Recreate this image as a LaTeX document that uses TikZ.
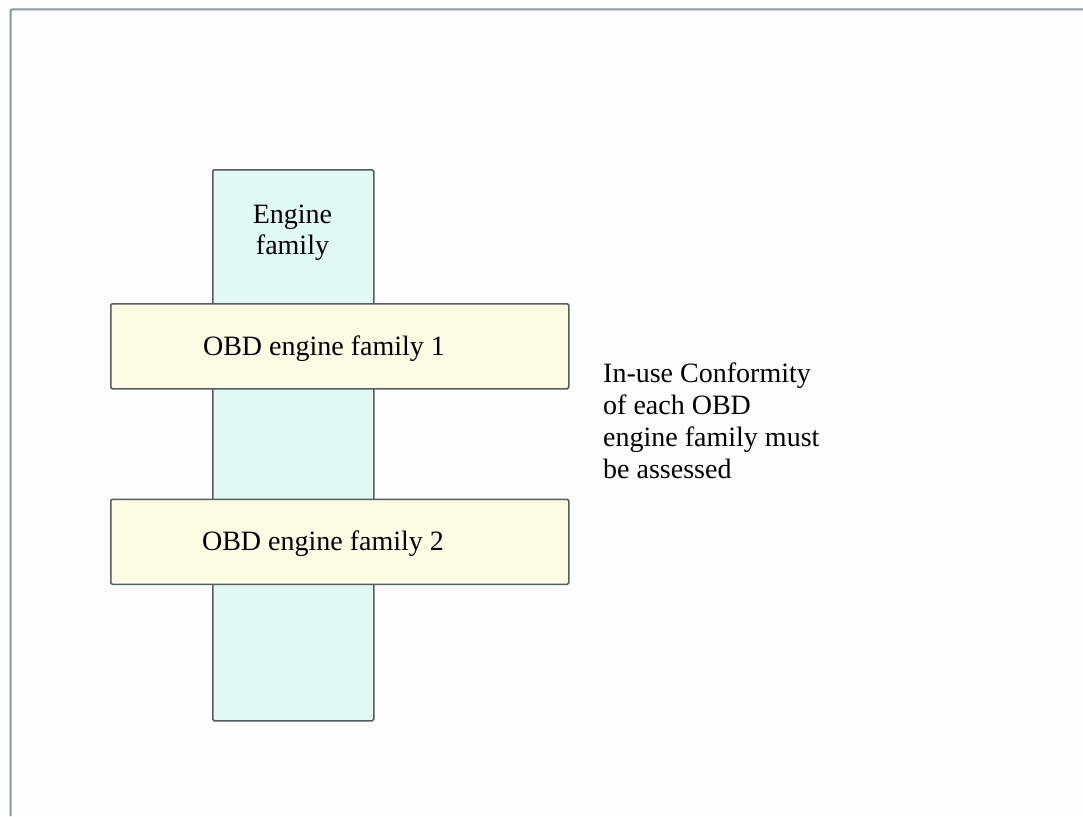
\documentclass[tikz,border=0pt]{standalone}
\usepackage{fontspec}
\setmainfont{Liberation Serif}
\definecolor{framegray}{RGB}{138,151,153}
\definecolor{boxline}{RGB}{85,94,96}
\definecolor{cyanfill}{RGB}{224,250,243}
\definecolor{yellowfill}{RGB}{252,252,228}
\definecolor{bgwhite}{RGB}{253,253,253}
\tikzset{
  tallbox/.style={draw=boxline, line width=1.6pt, fill=cyanfill, rounded corners=1.5pt, inner sep=0pt},
  obdbox/.style={draw=boxline, line width=1.6pt, fill=yellowfill, rounded corners=1.5pt, inner sep=0pt,
     minimum width=458pt, minimum height=85pt, anchor=north west},
  txt/.style={font=\fontsize{28}{31}\selectfont, inner sep=0pt, text=black},
}
\begin{document}
\begin{tikzpicture}[x=1pt,y=-1pt]
\useasboundingbox (0,0) rectangle (1083,816);
\fill[bgwhite] (0,0) rectangle (1083,816);
\draw[framegray, line width=2pt, rounded corners=2pt] (1083,9.5) -- (10.5,9.5) -- (10.5,816);
% tall engine family box
\node[tallbox, minimum width=161pt, minimum height=551pt, anchor=north west] (ef) at (212,169) {};
\node[txt, align=center, anchor=center] (eft) at (292.5,233) {Engine\\family};
% OBD boxes
\node[obdbox] (obd1) at (110,303) {};
\node[txt, text height=19pt, text depth=0pt] (obd1t) at (324,345.5) {OBD engine family 1};
\node[obdbox] (obd2) at (110,498.5) {};
\node[txt, text height=19pt, text depth=0pt] (obd2t) at (323,541) {OBD engine family 2};
% note
\node[txt, font=\fontsize{28}{32}\selectfont, align=left, anchor=north west] (note) at (603,363)
  {In-use Conformity\\of each OBD\\engine family must\\be assessed};
\end{tikzpicture}
\end{document}
